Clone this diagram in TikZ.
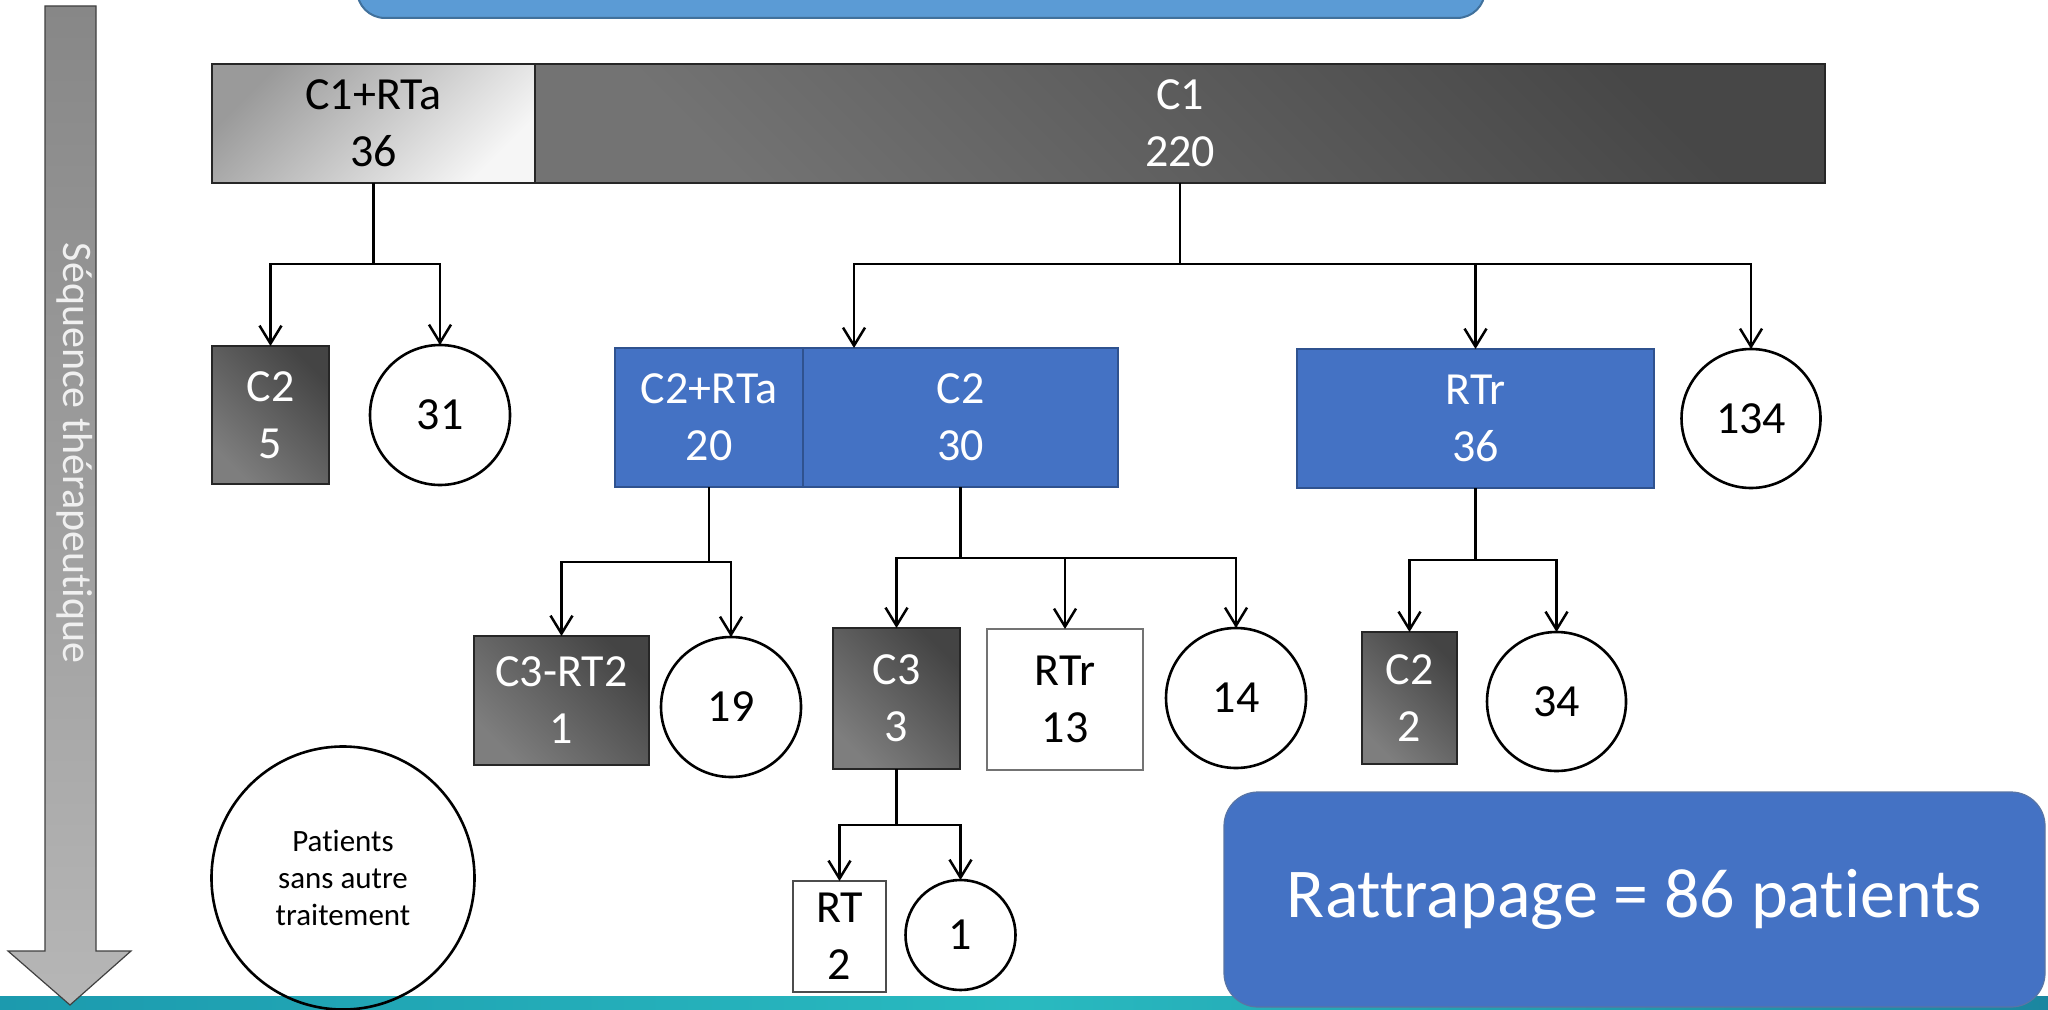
\documentclass[tikz,border=0pt]{standalone}
\usepackage{fontspec}
\setmainfont{Carlito}[Ligatures={NoCommon}]
\usetikzlibrary{arrows.meta}
\definecolor{boxblue}{HTML}{4472C4}
\definecolor{boxblueline}{HTML}{2F528F}
\definecolor{bannerblue}{HTML}{5B9BD5}
\definecolor{bannerline}{HTML}{41719C}
\definecolor{darkA}{HTML}{7E7E7E}
\definecolor{darkB}{HTML}{444444}
\definecolor{bigA}{HTML}{737373}
\definecolor{bigB}{HTML}{474747}
\definecolor{lightA}{HTML}{9A9A9A}
\definecolor{lightB}{HTML}{F6F6F6}
\definecolor{tealA}{HTML}{1C9AAE}
\definecolor{tealB}{HTML}{29BAC0}
\definecolor{tealC}{HTML}{1B86A0}
\definecolor{arrowA}{HTML}{878787}
\definecolor{arrowB}{HTML}{B6B6B6}
\begin{document}
\begin{tikzpicture}[x=0.5pt,y=-0.5pt,
  sz/.style 2 args={minimum width=#1*0.5pt, minimum height=#2*0.5pt},
  lbl/.style={font=\fontsize{23}{28.5}\selectfont, align=center, inner sep=0pt, outer sep=0pt},
  darkbox/.style={lbl, rectangle, draw=black!85, line width=0.6pt, text=white,
    top color=darkB, bottom color=darkA, shading angle=-45},
  bigbox/.style={lbl, rectangle, draw=black!85, line width=0.6pt, text=white,
    top color=bigB, bottom color=bigA, shading angle=-45},
  lightbox/.style={lbl, rectangle, draw=black!85, line width=0.6pt, text=black,
    top color=lightA, bottom color=lightB, shading angle=45},
  bluebox/.style={lbl, rectangle, draw=boxblueline, line width=0.6pt, fill=boxblue, text=white},
  whitebox/.style={lbl, rectangle, draw=black!55, line width=0.6pt, fill=white, text=black},
  numcirc/.style={lbl, circle, draw=black, line width=1.3pt, fill=white, text=black, minimum size=#1*0.5pt},
  conn/.style={draw=black, line width=1.25pt, -{Straight Barb[length=9pt,width=11pt]}},
]
\useasboundingbox (0,0) rectangle (2048,1010);
\fill[white] (0,0) rectangle (2048,1010);

% bottom decorative strip
\path[left color=tealA, right color=tealC, middle color=tealB] (0,996) rectangle (2048,1010);

% top banner (cut off)
\path[fill=bannerblue, draw=bannerline, line width=1pt, rounded corners=14pt] (357,-60) rectangle (1485,18);

% left sequence arrow
\path[draw=black!75, line width=0.6pt, top color=arrowA, bottom color=arrowB]
  (45,6) -- (96,6) -- (96,951) -- (131,951) -- (70,1005) -- (8,951) -- (45,951) -- cycle;
\node[rotate=-90, text=white!94!black, inner sep=0pt, font=\fontsize{21}{25}\selectfont] (seq) at (75,453) {Séquence thérapeutique};

% level 1
\node[lightbox, sz={323}{119}] (c1rta) at (373.5,123.5) {C1+RTa\\36};
\node[bigbox, sz={1290}{119}] (c1) at (1180,123.5) {C1\\220};

% level 2
\node[darkbox, sz={117}{138}] (c2a) at (270.5,415) {C2\\5};
\node[numcirc=140] (n31) at (440,415) {31};
\node[bluebox, sz={188}{139}] (c2rta) at (709,417.5) {C2+RTa\\20};
\node[bluebox, sz={315}{139}] (c2b) at (960.5,417.5) {C2\\30};
\coordinate (grp) at (854,348);
\node[bluebox, sz={357}{139}] (rtr36) at (1475.5,418.5) {RTr\\36};
\node[numcirc=139] (n134) at (1751,418.5) {134};

% level 3
\node[darkbox, sz={175}{129}] (c3rt2) at (561.5,700.5) {C3-RT2\\1};
\node[numcirc=140] (n19) at (731,707) {19};
\node[darkbox, sz={127}{141}] (c3) at (896.5,698.5) {C3\\3};
\node[whitebox, sz={156}{141}] (rtr13) at (1065,699.5) {RTr\\13};
\node[numcirc=140] (n14) at (1236,698) {14};
\node[darkbox, sz={95}{132}] (c2c) at (1409.5,698) {C2\\2};
\node[numcirc=139] (n34) at (1556.5,701.5) {34};

% level 4
\node[whitebox, draw=black!70, sz={93}{111}] (rt2) at (839.5,936.5) {RT\\2};
\node[numcirc=110] (n1) at (960.5,935) {1};

% legend and summary
\node[circle, draw=black, line width=1.3pt, minimum size=263*0.5pt, inner sep=0pt, align=center,
  font=\fontsize{15.5}{18.5}\selectfont] (legend) at (343,878) {Patients\\sans autre\\traitement};
\node[rectangle, rounded corners=17pt, fill=boxblue, draw=boxblueline!80, line width=0.6pt,
  sz={821}{215}, text=white, inner sep=0pt, font=\fontsize{35}{40}\selectfont] (ratt) at (1634.5,899.5) {Rattrapage = 86 patients};

% connectors
\draw[conn] (c1rta.south) -- ++(0,81) -| (c2a.north);
\draw[conn] (c1rta.south) -- ++(0,81) -| (n31.north);
\draw[conn] (c1.south) -- ++(0,81) -| (grp);
\draw[conn] (c1.south) -- ++(0,81) -| (rtr36.north);
\draw[conn] (c1.south) -- ++(0,81) -| (n134.north);
\draw[conn] (c2rta.south) -- ++(0,75) -| (c3rt2.north);
\draw[conn] (c2rta.south) -- ++(0,75) -| (n19.north);
\draw[conn] (c2b.south) -- ++(0,71) -| (c3.north);
\draw[conn] (c2b.south) -- ++(0,71) -| (rtr13.north);
\draw[conn] (c2b.south) -- ++(0,71) -| (n14.north);
\draw[conn] (rtr36.south) -- ++(0,72) -| (c2c.north);
\draw[conn] (rtr36.south) -- ++(0,72) -| (n34.north);
\draw[conn] (c3.south) -- ++(0,56) -| (rt2.north);
\draw[conn] (c3.south) -- ++(0,56) -| (n1.north);
\end{tikzpicture}
\end{document}
